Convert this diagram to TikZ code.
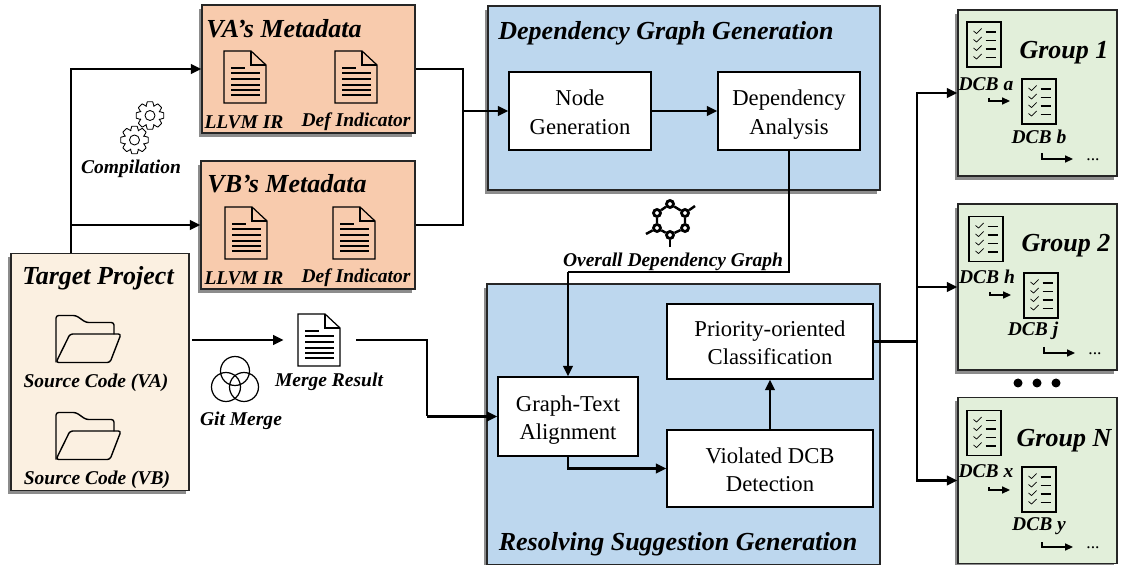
\documentclass[tikz,border=0pt]{standalone}
\usepackage{fontspec}
\setmainfont{Liberation Serif}
\usepackage{xcolor}
\usetikzlibrary{arrows.meta, shadows}
\definecolor{metapeach}{HTML}{F8CBAD}
\definecolor{stageblue}{HTML}{BDD7EE}
\definecolor{groupgreen}{HTML}{E2EFDA}
\definecolor{projcream}{HTML}{FBF0E1}

\begin{document}
\begin{tikzpicture}[
  x=1cm, y=-1cm,
  panel/.style={rectangle, draw=black!85, line width=0.8pt, inner sep=0pt, drop shadow={shadow xshift=-1.5pt, shadow yshift=-2pt, opacity=0.45, fill=black}},
  stepbox/.style={rectangle, draw=black, fill=white, line width=0.8pt, inner sep=0pt, align=center, font=\fontsize{12.9}{16}\selectfont, text height=28pt, text depth=1.8pt},
  bigtitle/.style={inner sep=0pt, font=\fontsize{14.8}{16}\selectfont\bfseries\itshape},
  smalltitle/.style={inner sep=0pt, font=\fontsize{11.1}{12}\selectfont\bfseries\itshape},
  arrow/.style={-{Triangle[length=6pt, width=5.5pt]}, draw=black, line width=1.3pt},
  wire/.style={draw=black, line width=1.3pt},
  hook/.style={-{Triangle[length=4.5pt, width=4pt]}, draw=black, line width=0.8pt},
  docicon/.pic={
    \draw[line width=0.7pt] (-0.42,-0.52) -- (0.12,-0.52) -- (0.42,-0.24) -- (0.42,0.52) -- (-0.42,0.52) -- cycle;
    \draw[line width=0.7pt] (0.12,-0.52) -- (0.12,-0.24) -- (0.42,-0.24);
    \draw[line width=0.9pt] (-0.28,-0.18) -- (0,-0.18);
    \foreach \ly in {-0.08,0.04,0.16,0.26,0.36} {
      \draw[line width=0.9pt] (-0.28,\ly) -- (0.3,\ly);
    }
  },
  foldericon/.pic={
    \draw[line width=0.8pt, line join=round, rounded corners=1.5pt] (-0.64,0.46) -- (-0.64,-0.48) -- (-0.24,-0.48) -- (-0.04,-0.34) -- (0.52,-0.34) -- (0.52,-0.1);
    \draw[line width=0.8pt, line join=round, rounded corners=1.5pt] (-0.64,0.46) -- (-0.36,-0.11) -- (0.66,-0.11) -- (0.44,0.46) -- cycle;
  },
  gearicon/.pic={
    \draw[line width=0.5pt] (0,0) circle (0.1);
    \foreach \a in {0,45,...,315} {
      \draw[line width=0.5pt, line join=round] (\a-24:0.2) -- (\a-11:0.28) -- (\a+11:0.28) -- (\a+24:0.2) -- (\a+21:0.2);
    }
  },
  checkicon/.pic={
    \draw[line width=0.6pt] (-0.34,-0.45) rectangle (0.34,0.45);
    \foreach \ly in {-0.27,-0.1,0.07,0.24} {
      \draw[line width=0.4pt] (-0.21,\ly) -- (-0.15,\ly+0.05) -- (-0.05,\ly-0.05);
      \draw[line width=1pt] (0.03,\ly+0.02) -- (0.24,\ly+0.02);
    }
  },
  graphdot/.style={circle, draw=black, line width=1.6pt, inner sep=0pt, minimum size=0.14cm}
]
  \useasboundingbox (0,0) rectangle (22.5,11.3);

  % Metadata panels
  \node[panel, fill=metapeach, minimum width=4.26cm, minimum height=2.56cm] (vameta) at (6.17,1.38) {};
  \node[panel, fill=metapeach, minimum width=4.28cm, minimum height=2.56cm] (vbmeta) at (6.16,4.50) {};
  \node[panel, fill=projcream, minimum width=3.56cm, minimum height=4.74cm] (target) at (2.00,7.44) {};

  % Stage panels
  \node[panel, fill=stageblue, minimum width=7.84cm, minimum height=3.68cm] (depstage) at (13.68,1.96) {};
  \node[panel, fill=stageblue, minimum width=7.86cm, minimum height=5.62cm] (resstage) at (13.67,8.49) {};

  % Group panels
  \node[panel, fill=groupgreen, minimum width=3.18cm, minimum height=3.32cm] (grp1) at (20.75,1.86) {};
  \node[panel, fill=groupgreen, minimum width=3.18cm, minimum height=3.32cm] (grp2) at (20.75,5.74) {};
  \node[panel, fill=groupgreen, minimum width=3.18cm, minimum height=3.32cm] (grpn) at (20.75,9.61) {};

  % Steps
  \node[stepbox, minimum width=2.84cm, minimum height=1.56cm] (nodegen) at (11.60,2.22) {Node\\Generation};
  \node[stepbox, minimum width=2.84cm, minimum height=1.56cm] (depana) at (15.78,2.22) {Dependency\\Analysis};
  \node[stepbox, minimum width=4.12cm, minimum height=1.50cm] (priority) at (15.40,6.83) {Priority-oriented\\Classification};
  \node[stepbox, minimum width=2.80cm, minimum height=1.58cm] (gta) at (11.36,8.33) {Graph-Text\\Alignment};
  \node[stepbox, minimum width=4.12cm, minimum height=1.54cm] (violated) at (15.40,9.37) {Violated DCB\\Detection};

  % Titles
  \node[bigtitle] (vatitle) at (5.68,0.58) {VA’s Metadata};
  \node[bigtitle] (vbtitle) at (5.74,3.68) {VB’s Metadata};
  \node[bigtitle] (tgttitle) at (1.96,5.56) {Target Project};
  \node[bigtitle] (deptitle) at (13.32,0.66) {Dependency Graph Generation};
  \node[bigtitle] (restitle) at (13.56,10.88) {Resolving Suggestion Generation};
  \node[bigtitle] (g1title) at (21.28,1.06) {Group 1};
  \node[bigtitle] (g2title) at (21.32,4.92) {Group 2};
  \node[bigtitle] (gntitle) at (21.28,8.82) {Group N};

  % Small labels
  \node[smalltitle] (vall) at (4.88,2.44) {LLVM IR};
  \node[smalltitle] (vadef) at (7.12,2.44) {Def Indicator};
  \node[smalltitle] (vbll) at (4.88,5.56) {LLVM IR};
  \node[smalltitle] (vbdef) at (7.12,5.56) {Def Indicator};
  \node[smalltitle] (compile) at (2.62,3.38) {Compilation};
  \node[smalltitle] (srca) at (1.92,7.65) {Source Code (VA)};
  \node[smalltitle] (srcb) at (1.94,9.59) {Source Code (VB)};
  \node[smalltitle] (gitmerge) at (4.82,8.41) {Git Merge};
  \node[smalltitle] (mergeres) at (6.58,7.63) {Merge Result};
  \node[smalltitle] (overall) at (13.46,5.24) {Overall Dependency Graph};

  % DCB labels
  \node[smalltitle] (dcba) at (19.72,1.69) {DCB a};
  \node[smalltitle] (dcbb) at (20.78,2.74) {DCB b};
  \node[smalltitle] (dcbh) at (19.74,5.53) {DCB h};
  \node[smalltitle] (dcbj) at (20.66,6.61) {DCB j};
  \node[smalltitle] (dcbx) at (19.72,9.43) {DCB x};
  \node[smalltitle] (dcby) at (20.78,10.52) {DCB y};
  \node[smalltitle, font=\fontsize{10}{12}\selectfont] (more1) at (21.86,3.20) {...};
  \node[smalltitle, font=\fontsize{10}{12}\selectfont] (more2) at (21.90,7.08) {...};
  \node[smalltitle, font=\fontsize{10}{12}\selectfont] (moren) at (21.86,10.96) {...};

  % Icons
  \pic at (4.90,1.54) {docicon};
  \pic at (7.12,1.54) {docicon};
  \pic at (4.92,4.66) {docicon};
  \pic at (7.08,4.66) {docicon};
  \pic at (6.38,6.80) {docicon};
  \pic at (1.76,6.79) {foldericon};
  \pic at (1.76,8.73) {foldericon};
  \pic at (3.00,2.31) {gearicon};
  \pic at (2.69,2.80) {gearicon};
  \pic at (19.68,0.89) {checkicon};
  \pic at (20.78,2.03) {checkicon};
  \pic at (19.72,4.78) {checkicon};
  \pic at (20.82,5.91) {checkicon};
  \pic at (19.68,8.66) {checkicon};
  \pic at (20.78,9.79) {checkicon};

  % Git merge circles
  \draw[line width=0.7pt] (4.70,7.42) circle (0.29);
  \draw[line width=0.7pt] (4.52,7.74) circle (0.29);
  \draw[line width=0.7pt] (4.88,7.74) circle (0.29);

  % Graph icon
  \node[graphdot] (ga) at (13.40,4.08) {};
  \node[graphdot] (gb) at (13.70,4.26) {};
  \node[graphdot] (gc) at (13.70,4.56) {};
  \node[graphdot] (gd) at (13.40,4.70) {};
  \node[graphdot] (ge) at (13.14,4.56) {};
  \node[graphdot] (gf) at (13.14,4.26) {};
  \coordinate (gbout) at (13.90,4.12);
  \coordinate (gdout) at (13.40,4.94);
  \coordinate (geout) at (12.92,4.68);
  \draw[line width=1.4pt] (ga) -- (gb) -- (gc) -- (gd) -- (ge) -- (gf) -- (ga);
  \draw[line width=1.4pt] (gb) -- (gbout);
  \draw[line width=1.4pt] (gd) -- (gdout);
  \draw[line width=1.4pt] (ge) -- (geout);

  % Three dots between groups
  \node[circle, fill=black, inner sep=0pt, minimum size=0.18cm] (dot1) at (20.36,7.66) {};
  \node[circle, fill=black, inner sep=0pt, minimum size=0.18cm] (dot2) at (20.74,7.66) {};
  \node[circle, fill=black, inner sep=0pt, minimum size=0.18cm] (dot3) at (21.12,7.66) {};

  % Hook arrows inside groups
  \coordinate (h1a) at (19.78,1.96);
  \coordinate (h1b) at (20.20,2.02);
  \coordinate (h2a) at (20.84,3.06);
  \coordinate (h2b) at (21.46,3.18);
  \coordinate (h3a) at (19.80,5.84);
  \coordinate (h3b) at (20.22,5.90);
  \coordinate (h4a) at (20.88,6.94);
  \coordinate (h4b) at (21.50,7.06);
  \coordinate (h5a) at (19.78,9.74);
  \coordinate (h5b) at (20.20,9.80);
  \coordinate (h6a) at (20.84,10.84);
  \coordinate (h6b) at (21.46,10.94);
  \draw[hook] (h1a) |- (h1b);
  \draw[hook] (h2a) |- (h2b);
  \draw[hook] (h3a) |- (h3b);
  \draw[hook] (h4a) |- (h4b);
  \draw[hook] (h5a) |- (h5b);
  \draw[hook] (h6a) |- (h6b);

  % Connections from the project
  \coordinate (tgtup) at (1.42,5.07);
  \draw[arrow] (tgtup) |- (vameta.west);
  \draw[arrow] (tgtup) |- (vbmeta.west);
  \node[inner sep=0pt, minimum width=1.44cm, minimum height=1.04cm] (mergeslot) at (6.40,6.80) {};
  \draw[arrow, shorten <=1.5pt] (mergeslot -| target.east) -- (mergeslot.west);

  % Connections into the graph stage
  \coordinate (joint) at (9.26,2.22);
  \draw[wire] (vameta.east) -| (joint);
  \draw[wire] (vbmeta.east) -| (joint);
  \draw[arrow] (joint) -- (nodegen.west);
  \draw[arrow] (nodegen.east) -- (depana.west);

  % Connections into the suggestion stage
  \coordinate (ovlbend) at (11.36,5.44);
  \draw[wire] (depana.south) |- (ovlbend);
  \draw[arrow] (ovlbend) -- (gta.north);
  \coordinate (mergebend) at (8.54,8.33);
  \draw[wire] (mergeslot.east) -| (mergebend);
  \draw[arrow] (mergebend) -- (gta.west);
  \draw[arrow] (gta.south) |- (violated.west);
  \draw[arrow] (violated.north) -- (priority.south);

  % Connections to the groups
  \coordinate (fork) at (18.34,6.83);
  \draw[wire] (priority.east) -- (fork);
  \draw[arrow] (fork) |- (grp1.west);
  \draw[arrow] (fork) |- (grp2.west);
  \draw[arrow] (fork) |- (grpn.west);
\end{tikzpicture}
\end{document}
